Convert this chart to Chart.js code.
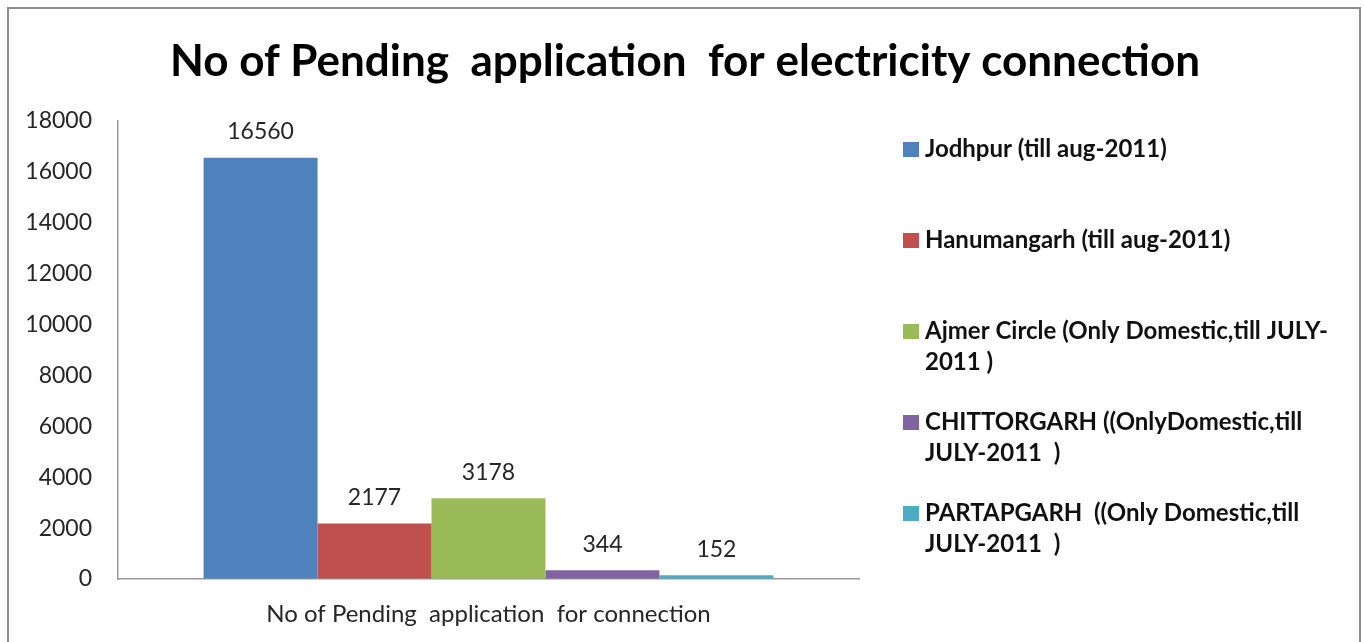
<!DOCTYPE html>
<html>
<head>
<meta charset="utf-8">
<script src="https://cdn.jsdelivr.net/npm/chart.js@4/dist/chart.umd.min.js"></script>
<style>
  html, body { margin: 0; padding: 0; background: #fff; overflow: hidden; }
  #frame {
    position: absolute; left: 7px; top: 7px; width: 1354px; height: 700px;
    border: 2px solid #8c8c8c; box-sizing: border-box;
  }
  #pending-chart { position: absolute; left: 0; top: 0; }
</style>
</head>
<body>
<div id="frame"></div>
<canvas id="pending-chart" width="1364" height="642"></canvas>
<script>
// Дані графіка
const chartTitle = 'No of Pending  application  for electricity connection';
const categories = ['No of Pending  application  for connection'];
const circleLabels = [
    ['Jodhpur (till aug-2011)'],
    ['Hanumangarh (till aug-2011)'],
    ['Ajmer Circle (Only Domestic,till JULY-', '2011 )'],
    ['CHITTORGARH ((OnlyDomestic,till', 'JULY-2011  )'],
    ['PARTAPGARH  ((Only Domestic,till', 'JULY-2011  )']
];
const pendingCounts = [16560, 2177, 3178, 344, 152];
const circleColors = ['#4f81bd', '#c0504d', '#9bbb59', '#8064a2', '#4bacc6'];

Chart.defaults.font.family = 'Lato, "Open Sans", sans-serif';
Chart.defaults.color = '#262626';

// заголовок, підписи значень і легенда справа
const decorPlugin = {
    id: 'decor',
    afterDraw(chart) {
        const ctx = chart.ctx;
        ctx.save();
        ctx.fillStyle = '#000';
        ctx.textAlign = 'center';
        ctx.textBaseline = 'middle';
        ctx.font = 'bold 44px Lato, sans-serif';
        ctx.fillText(chartTitle, 685, 62);

        // значення над стовпчиками
        ctx.font = '23px Lato, sans-serif';
        ctx.fillStyle = '#262626';
        chart.data.datasets.forEach((ds, i) => {
            const bar = chart.getDatasetMeta(i).data[0];
            ctx.fillText(String(ds.data[0]), bar.x, bar.y - 26);
        });

        // легенда
        ctx.textAlign = 'left';
        ctx.font = 'bold 24px Lato, sans-serif';
        circleLabels.forEach((lines, i) => {
            const y = 149 + i * 91;
            ctx.fillStyle = circleColors[i];
            ctx.fillRect(903, y - 7, 16, 15);
            ctx.fillStyle = '#111';
            lines.forEach((line, j) => ctx.fillText(line, 925, y + j * 31));
        });
        ctx.restore();
    }
};

new Chart(document.getElementById('pending-chart').getContext('2d'), {
    type: 'bar',
    data: {
        labels: categories,
        datasets: circleLabels.map((lines, i) => ({
            label: lines.join(' '),
            data: [pendingCounts[i]],
            backgroundColor: circleColors[i],
            barPercentage: 1,
            categoryPercentage: 0.769
        }))
    },
    options: {
        responsive: false,
        animation: false,
        layout: { padding: { left: 8, top: 121, right: 505, bottom: 0 } },
        plugins: {
            legend: { display: false },
            title: { display: false },
            tooltip: { enabled: false }
        },
        scales: {
            x: {
                grid: { display: true, color: 'rgba(0,0,0,0)', drawTicks: false },
                border: { display: true, color: '#999', width: 1.5 },
                ticks: { font: { size: 24 }, padding: 21, color: '#262626' },
                afterFit(scale) { scale.height = 63; }
            },
            y: {
                min: 0,
                max: 18000,
                grid: { display: true, color: 'rgba(0,0,0,0)', drawTicks: false },
                border: { display: true, color: '#999', width: 1.5 },
                ticks: {
                    stepSize: 2000,
                    font: { size: 23 },
                    padding: 26,
                    color: '#262626',
                    callback: (v) => String(v)
                },
                afterFit(scale) { scale.width = 110; }
            }
        }
    },
    plugins: [decorPlugin]
});
</script>
</body>
</html>
